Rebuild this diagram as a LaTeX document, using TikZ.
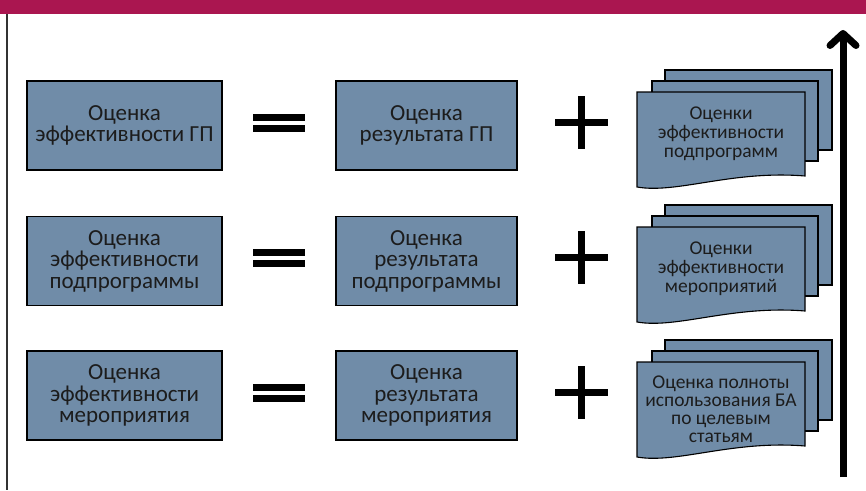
\documentclass[tikz,border=0pt]{standalone}
\usepackage{fontspec}
\setmainfont{Carlito}
\usetikzlibrary{arrows.meta}
\definecolor{banner}{RGB}{170,22,80}
\definecolor{boxfill}{RGB}{112,140,168}
\definecolor{txt}{RGB}{28,28,28}
\tikzset{
  x=1pt, y=-1pt,
  bigbox/.style={draw=black, line width=1.4pt, fill=boxfill, text=txt, align=center,
    font=\fontsize{23}{21.5}\selectfont, inner sep=0pt, minimum height=89pt},
  leftbox/.style={bigbox, minimum width=195pt},
  midbox/.style={bigbox, minimum width=181pt},
  doctext/.style={text=txt, align=center, font=\fontsize{19.5}{19}\selectfont, inner sep=0pt},
  sym/.style={fill=black, draw=none},
  docstack/.pic={
    \filldraw[fill=boxfill, draw=black, line width=1.1pt] (28,-22) rectangle (195,58);
    \filldraw[fill=boxfill, draw=black, line width=1.1pt] (15,-11) rectangle (181,69);
    \filldraw[fill=boxfill, draw=black, line width=1.1pt]
      (0,0) -- (168,0) -- (168,84) .. controls (95,78) and (40,102) .. (0,95) -- cycle;
  }
}
\begin{document}
\begin{tikzpicture}
\useasboundingbox (0,0) rectangle (866,490);
\fill[white] (0,0) rectangle (866,490);
% banner
\fill[banner] (0,0) rectangle (866,14);
% left border
\coordinate (lt) at (7,14);
\coordinate (lb) at (7,490);
\draw[line width=1.3pt, black!80] (lt) -- (lb);

% rows
\foreach \r/\dy in {1/0, 2/135, 3/270}{
  % equals sign
  \fill[sym] (253,114+\dy) rectangle (305,121+\dy);
  \fill[sym] (253,125+\dy) rectangle (305,132+\dy);
  % plus sign
  \fill[sym] (555,119+\dy) rectangle (608,126+\dy);
  \fill[sym] (578,96+\dy) rectangle (585,149+\dy);
  % document stacks
  \pic at (637,92+\dy) {docstack};
}

% row 1
\node[leftbox] (a1) at (124.5,125.5) {Оценка\\эффективности ГП};
\node[midbox] (b1) at (426.5,125.5) {Оценка\\результата ГП};
\node[doctext] (c1) at (721,134) {Оценки\\эффективности\\подпрограмм};
% row 2
\node[leftbox] (a2) at (124.5,261) {Оценка\\эффективности\\подпрограммы};
\node[midbox] (b2) at (426.5,261) {Оценка\\результата\\подпрограммы};
\node[doctext] (c2) at (721,269) {Оценки\\эффективности\\мероприятий};
% row 3
\node[leftbox] (a3) at (124.5,395.5) {Оценка\\эффективности\\мероприятия};
\node[midbox] (b3) at (426.5,395.5) {Оценка\\результата\\мероприятия};
\node[doctext, font=\fontsize{19.5}{18}\selectfont] (c3) at (721,409) {Оценка полноты\\использования БА\\по целевым\\статьям};

% big arrow
\coordinate (abot) at (843,477);
\coordinate (atop) at (843,30);
\draw[line width=7pt, -{Straight Barb[length=12pt, width=26pt, line cap=round, line join=round]}] (abot) -- (atop);
\end{tikzpicture}
\end{document}
